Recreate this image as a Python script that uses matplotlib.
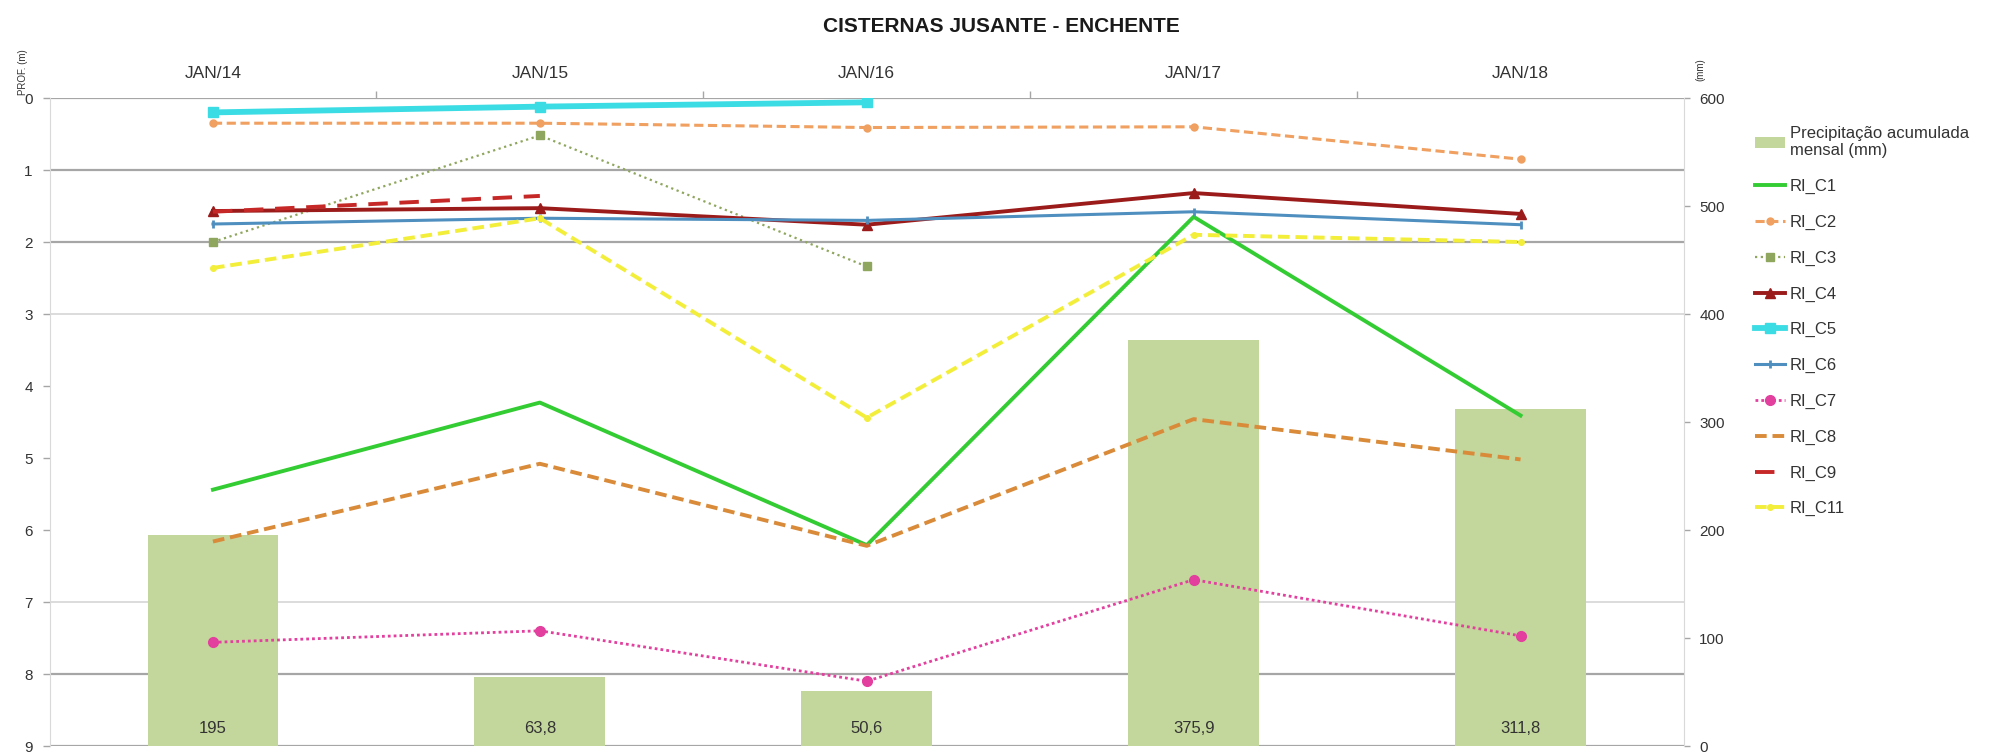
import numpy as np
import matplotlib
matplotlib.use("Agg")
import matplotlib.pyplot as plt

plt.rcParams["font.family"] = ["Liberation Sans", "DejaVu Sans"]

# ---- data -------------------------------------------------------------
categories = ["JAN/14", "JAN/15", "JAN/16", "JAN/17", "JAN/18"]
precip_mm = [195, 63.8, 50.6, 375.9, 311.8]

nan = np.nan
ri_c1 = [5.44, 4.23, 6.21, 1.65, 4.41]
ri_c2 = [0.35, 0.35, 0.41, 0.40, 0.85]
ri_c3 = [2.00, 0.52, 2.34, nan, nan]
ri_c4 = [1.57, 1.53, 1.76, 1.32, 1.61]
ri_c5 = [0.20, 0.12, 0.06, nan, nan]
ri_c6 = [1.75, 1.67, 1.70, 1.58, 1.76]
ri_c7 = [7.56, 7.40, 8.10, 6.69, 7.47]
ri_c8 = [6.16, 5.08, 6.22, 4.46, 5.02]
ri_c9 = [1.58, 1.36, nan, nan, nan]
ri_c11 = [2.36, 1.67, 4.44, 1.90, 2.00]

depth_ticks = list(range(0, 10))
mm_ticks = list(range(0, 601, 100))

# ---- figure layout ----------------------------------------------------
W, H = 2002, 755
fig = plt.figure(figsize=(W / 100, H / 100), dpi=100)
x0, x1, y0, y1 = 49.5, 1684, 98, 746
rect = [x0 / W, 1 - y1 / H, (x1 - x0) / W, (y1 - y0) / H]

ax = fig.add_axes(rect)      # depth axis + gridlines (bottom layer)
axb = ax.twinx()             # precipitation bars (mm)
axl = ax.twinx()             # depth lines (top layer)

x = np.arange(len(categories))
for a in (ax, axb, axl):
    a.set_xlim(-0.5, len(categories) - 0.5)
ax.set_ylim(9, 0)
axl.set_ylim(9, 0)
axb.set_ylim(0, 600)

GRID_DARK = "#A6A6A6"
GRID_LIGHT = "#D9D9D9"
TXT = "#333333"

# horizontal gridlines
for d in depth_ticks:
    if d in (4, 5, 6):
        continue
    if d in (3, 7):
        ax.axhline(d, color=GRID_LIGHT, lw=1.3, zorder=0)
    else:
        ax.axhline(d, color=GRID_DARK, lw=1.6, zorder=0)

# left (depth) axis
ax.set_yticks(depth_ticks)
ax.tick_params(axis="y", left=True, right=False, length=5, width=1,
               color=GRID_DARK, labelsize=11, labelcolor=TXT, pad=7)

# top category axis: ticks between categories, labels at centres
ax.xaxis.tick_top()
ax.set_xticks(x[:-1] + 0.5)
ax.set_xticklabels([])
ax.set_xticks(x, minor=True)
ax.set_xticklabels(categories, minor=True)
ax.tick_params(axis="x", which="major", top=True, bottom=False, length=5,
               width=1, color=GRID_DARK, direction="out")
ax.tick_params(axis="x", which="minor", top=True, bottom=False, length=0,
               pad=12, labelsize=12.5, labelcolor=TXT)

for s in ("top", "bottom", "right"):
    ax.spines[s].set_visible(False)
ax.spines["left"].set_color(GRID_LIGHT)

# right (mm) axis
axb.set_yticks(mm_ticks)
axb.tick_params(axis="y", right=True, left=False, length=4, width=1,
                color=GRID_DARK, labelsize=11, labelcolor=TXT, pad=7)
for s in ("top", "bottom", "left"):
    axb.spines[s].set_visible(False)
axb.spines["right"].set_color(GRID_LIGHT)

axl.yaxis.set_visible(False)
for s in axl.spines.values():
    s.set_visible(False)

# ---- bars -------------------------------------------------------------
bars = axb.bar(x, precip_mm, width=0.4, color="#C3D69B", zorder=2,
               label="Precipitação acumulada\nmensal (mm)")
for xi, v in zip(x, precip_mm):
    txt = f"{v:g}".replace(".", ",")
    axb.annotate(txt, (xi, 0), xytext=(0, 7), textcoords="offset points",
                 ha="center", va="bottom", fontsize=12, color=TXT)

# ---- lines ------------------------------------------------------------
series = [
    ("RI_C1", ri_c1, dict(color="#33CC33", lw=2.8)),
    ("RI_C2", ri_c2, dict(color="#F0A060", lw=2.2, dashes=(3, 1.5),
                          marker="o", ms=5)),
    ("RI_C3", ri_c3, dict(color="#8FA65E", lw=1.6, dashes=(1, 1.6),
                          marker="s", ms=6)),
    ("RI_C4", ri_c4, dict(color="#9B1B1B", lw=2.8, marker="^", ms=7)),
    ("RI_C5", ri_c5, dict(color="#3CDCE4", lw=4.2, marker="s", ms=7)),
    ("RI_C6", ri_c6, dict(color="#4F8FBF", lw=2.2, marker="|", ms=6,
                          mew=2)),
    ("RI_C7", ri_c7, dict(color="#E23F9E", lw=2, dashes=(1, 1.1),
                          marker="o", ms=7)),
    ("RI_C8", ri_c8, dict(color="#D98B3A", lw=2.8, dashes=(3, 1.5))),
    ("RI_C9", ri_c9, dict(color="#C62828", lw=2.8, dashes=(5, 3))),
    ("RI_C11", ri_c11, dict(color="#F2EE3A", lw=2.8, dashes=(3, 1.5),
                            marker="o", ms=4)),
]
handles = [bars]
labels = ["Precipitação acumulada\nmensal (mm)"]
for name, vals, style in series:
    (ln,) = axl.plot(x, vals, label=name, zorder=3, **style)
    handles.append(ln)
    labels.append(name)

# ---- legend, titles ---------------------------------------------------
fig.legend(handles, labels, loc="upper left",
           bbox_to_anchor=(1755 / W, 1 - 126 / H), frameon=False,
           fontsize=12, handlelength=1.8, handletextpad=0.3,
           labelspacing=1.24, borderpad=0, borderaxespad=0,
           labelcolor=TXT)

fig.text(0.5, 1 - 26 / H, "CISTERNAS JUSANTE - ENCHENTE", ha="center",
         va="center", fontsize=15, fontweight="bold", color="#1A1A1A")
fig.text(23 / W, 1 - 72 / H, "PROF. (m)", rotation=90, fontsize=7,
         ha="center", va="center", color=TXT)
fig.text(1700 / W, 1 - 70 / H, "(mm)", rotation=90, fontsize=7,
         ha="center", va="center", color=TXT)

fig.savefig("out.png", dpi=100, facecolor="white")
